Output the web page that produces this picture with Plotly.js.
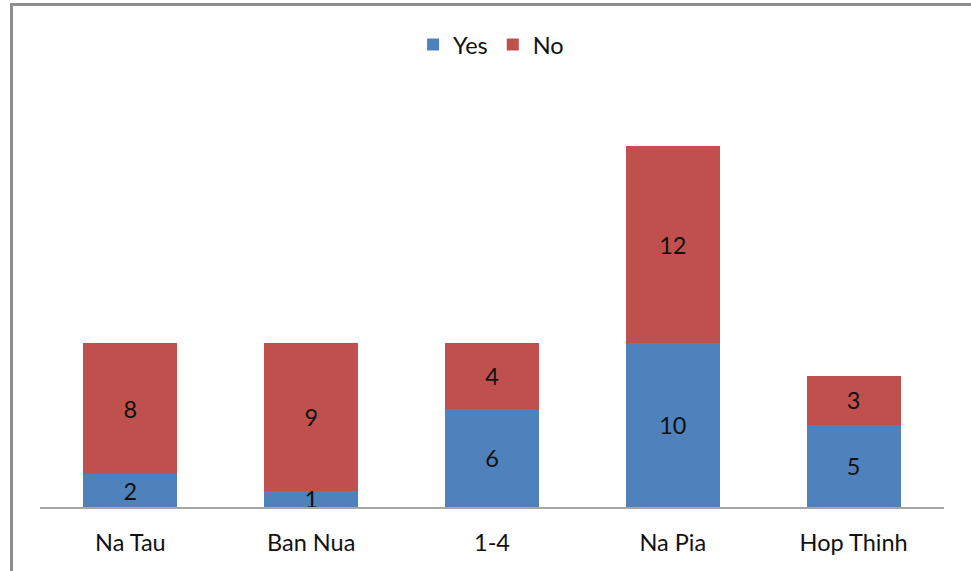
<!DOCTYPE html>
<html>
<head>
<meta charset="utf-8">
<script src="https://cdn.plot.ly/plotly-3.0.1.min.js"></script>
<style>
  html, body { margin: 0; padding: 0; background: #fff; }
  #wrap { position: relative; width: 971px; height: 571px; overflow: hidden; }
  #chart { position: absolute; left: 0; top: 0; width: 971px; height: 571px; }
  #frame { position: absolute; left: 10px; top: 3px; width: 1000px; height: 600px;
           border-left: 3px solid #8e8e8e; border-top: 3px solid #8e8e8e; pointer-events: none; }
</style>
</head>
<body>
<div id="wrap">
  <div id="chart"></div>
  <div id="frame"></div>
</div>
<script>
// Survey answers per village
const villages = ["Na Tau", "Ban Nua", "1-4", "Na Pia", "Hop Thinh"];
const yesCounts = [2, 1, 6, 10, 5];
const noCounts = [8, 9, 4, 12, 3];

const FONT = "Lato, 'Open Sans', sans-serif";
const LABEL_SIZE = 23.5;

function barTrace(name, values, color) {
  return {
    type: "bar", name: name, x: villages, y: values,
    text: values.map(String), textposition: "inside", insidetextanchor: "middle",
    textangle: 0,
    textfont: { family: FONT, size: LABEL_SIZE, color: "#111" },
    marker: { color: color }, hoverinfo: "x+y+name"
  };
}

const traces = [
  barTrace("Yes", yesCounts, "#4F81BD"),
  barTrace("No", noCounts, "#C0504D")
];

const layout = {
  width: 971, height: 571,
  margin: { l: 40, r: 27, t: 20, b: 64 },
  paper_bgcolor: "#fff", plot_bgcolor: "#fff",
  barmode: "stack", bargap: 0.48,
  uniformtext: { mode: "show", minsize: LABEL_SIZE },
  font: { family: FONT, size: LABEL_SIZE, color: "#111" },
  showlegend: true,
  legend: {
    orientation: "h", x: 0.499, xanchor: "center", y: 0.949, yanchor: "middle",
    font: { family: FONT, size: 23.5, color: "#111" },
    bgcolor: "rgba(0,0,0,0)", traceorder: "normal"
  },
  xaxis: {
    type: "category", showline: true, linecolor: "#a6a6a6", linewidth: 1.5,
    ticks: "", ticklabelstandoff: 14, showgrid: false, zeroline: false,
    tickfont: { family: FONT, size: LABEL_SIZE, color: "#111" }
  },
  yaxis: {
    range: [0, 29.7], visible: false, showgrid: false, zeroline: false
  }
};

Plotly.newPlot("chart", traces, layout, { displayModeBar: false, staticPlot: true });
</script>
</body>
</html>
